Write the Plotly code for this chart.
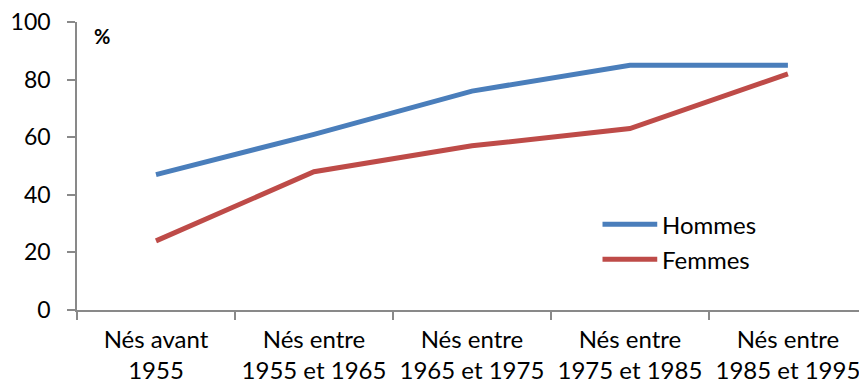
import plotly.graph_objects as go

# Birth cohorts and share (%) per sex
cohorts = ["Nés avant<br>1955", "Nés entre<br>1955 et 1965", "Nés entre<br>1965 et 1975",
           "Nés entre<br>1975 et 1985", "Nés entre<br>1985 et 1995"]
hommes = [47, 61, 76, 85, 85]
femmes = [24, 48, 57, 63, 82]

series = [("Hommes", hommes, "#4A7EBB"), ("Femmes", femmes, "#BE4B48")]

FONT = "Lato, Calibri, Carlito, sans-serif"
AXIS = "#898989"

fig = go.Figure()
for name, vals, col in series:
    fig.add_trace(go.Scatter(x=cohorts, y=vals, mode="lines", name=name,
                             line=dict(color=col, width=5), showlegend=False))

# Legend drawn as short line segments followed by the series name
legend_x0, legend_x1 = 0.672, 0.742
legend_y = [0.298, 0.176]
for (name, vals, col), ly in zip(series, legend_y):
    fig.add_shape(type="line", xref="paper", yref="paper",
                  x0=legend_x0, x1=legend_x1, y0=ly, y1=ly,
                  line=dict(color=col, width=5))
    fig.add_annotation(xref="paper", yref="paper", x=legend_x1 + 0.004, y=ly,
                       text=name, showarrow=False, xanchor="left", yanchor="middle",
                       font=dict(family=FONT, size=24, color="#000"))

fig.add_annotation(xref="paper", yref="paper", x=0.019, y=0.95, text="<b>%</b>",
                   showarrow=False, xanchor="left", yanchor="middle",
                   font=dict(family=FONT, size=20, color="#000"))

fig.update_xaxes(type="category", range=[-0.5, 4.45], tickson="boundaries",
                 ticks="outside", ticklen=8, tickcolor=AXIS, tickwidth=1.5,
                 showline=True, linecolor=AXIS, linewidth=1.5, showgrid=False,
                 ticklabelstandoff=7, automargin=False,
                 tickfont=dict(family=FONT, size=24, color="#000"))
fig.update_yaxes(range=[0, 100], dtick=20, ticks="outside", ticklen=8,
                 tickcolor=AXIS, tickwidth=1.5, showline=True, linecolor=AXIS,
                 linewidth=1.5, showgrid=False, zeroline=False,
                 ticklabelstandoff=12, automargin=False,
                 tickfont=dict(family=FONT, size=23, color="#000"))

fig.update_layout(width=859, height=386, margin=dict(l=77, r=0, t=22, b=76),
                  plot_bgcolor="white", paper_bgcolor="white")

fig.write_html("out.html")
